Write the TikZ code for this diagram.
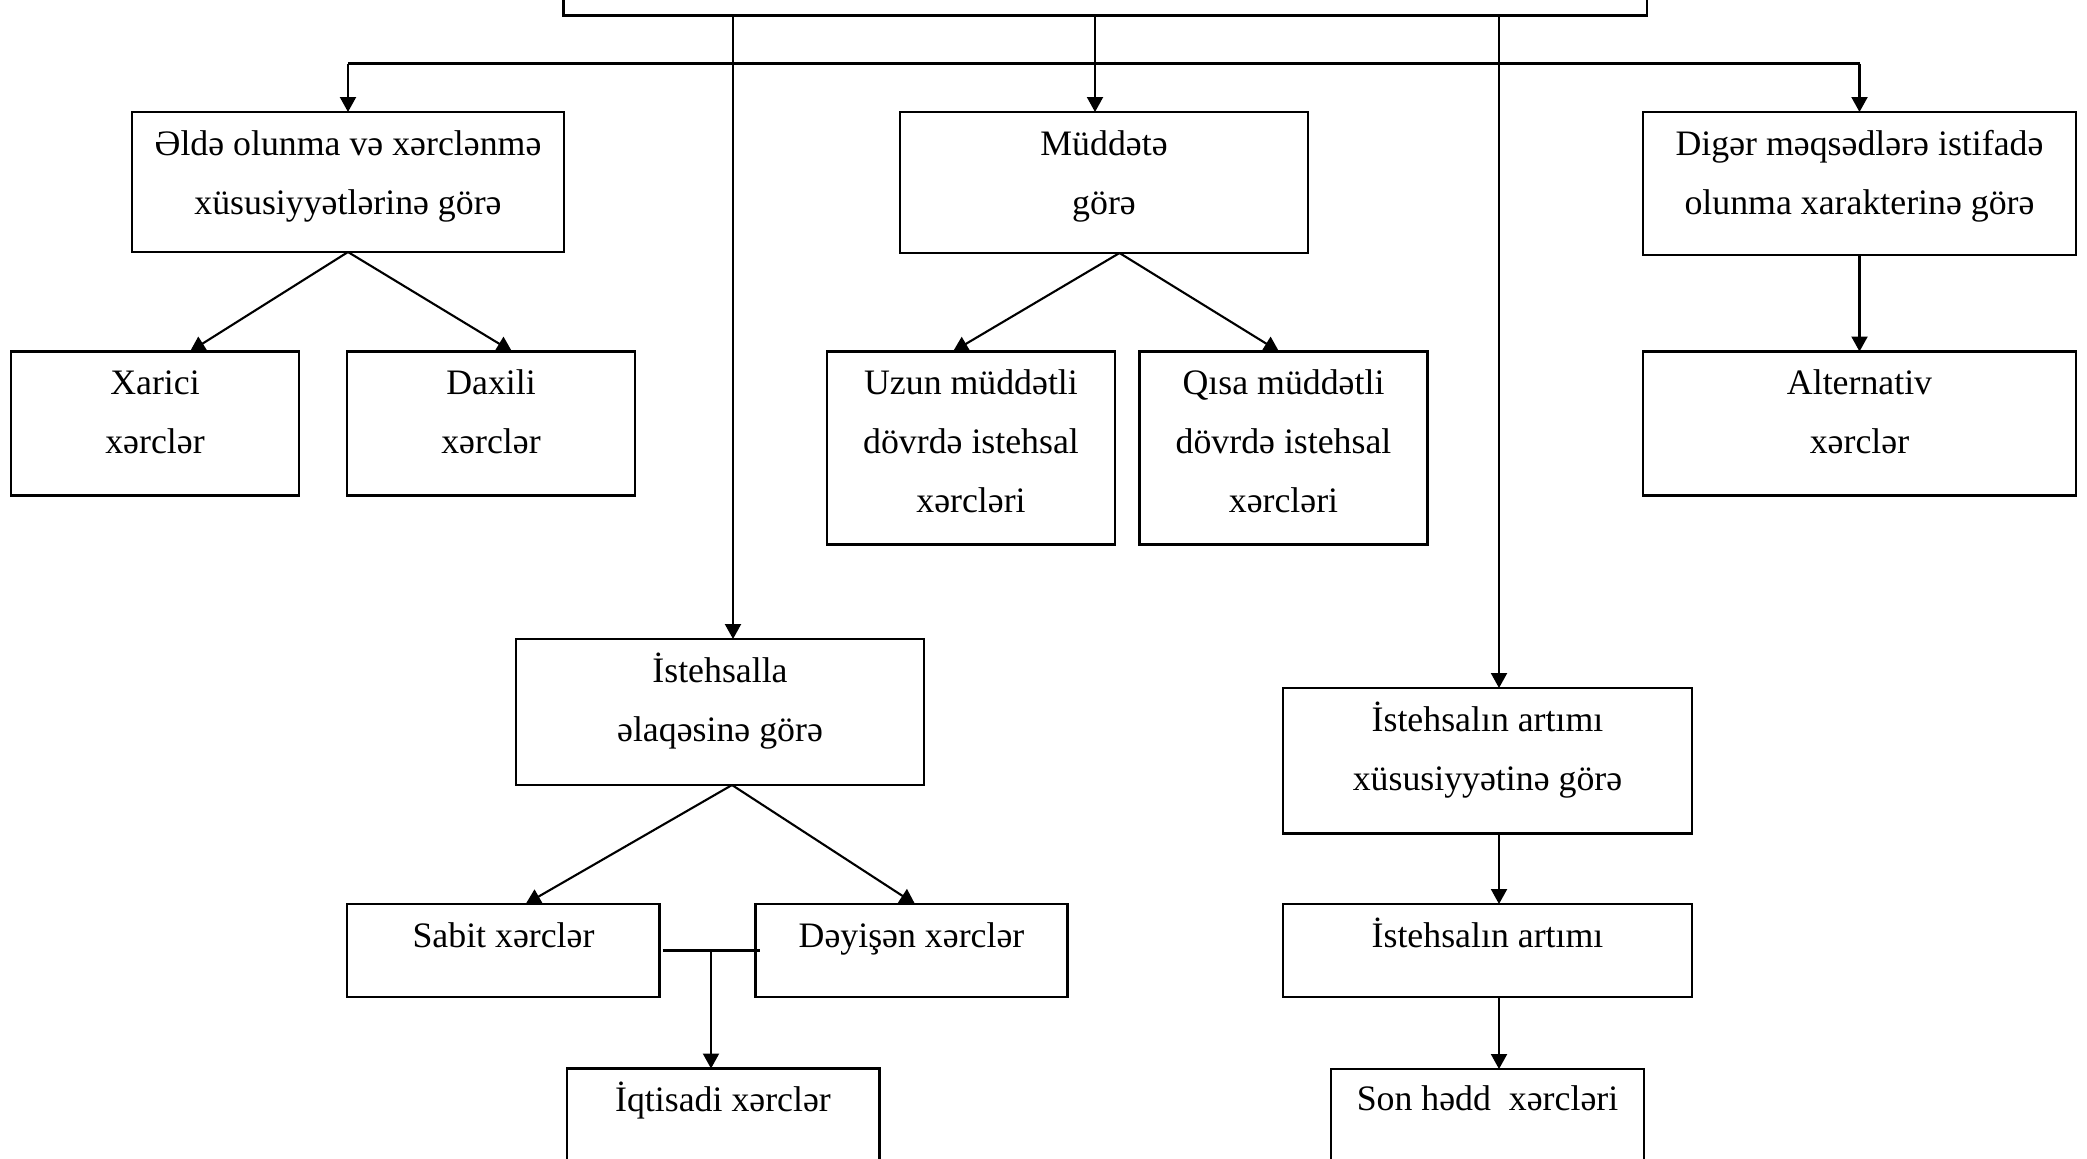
\documentclass[tikz,border=0pt]{standalone}
\usepackage{fontspec}
\setmainfont{Liberation Serif}
\usetikzlibrary{arrows.meta}
\begin{document}
\begin{tikzpicture}[x=0.5pt,y=-0.5pt,
 box/.style={draw, line width=1.1pt, anchor=north west, inner sep=0pt, outer sep=0pt},
 lbl/.style={anchor=base, align=center, font=\fontsize{17.9}{29.5}\selectfont, inner sep=0pt},
 conn/.style={line width=1.05pt},
 arr/.style={conn, -{Triangle[length=7.5pt,width=8pt]}}]
\clip (0,0) rectangle (2087,1158);
% boxes
\node[box, minimum width=541.75pt, minimum height=37.75pt] (top) at (563.5,-60) {};
\node[box, minimum width=216pt, minimum height=70pt] (b1) at (132,112) {};
\node[box, minimum width=204pt, minimum height=70.5pt] (mud) at (900,112) {};
\node[box, minimum width=216.5pt, minimum height=71.5pt] (dig) at (1643,112) {};
\node[box, minimum width=144pt, minimum height=72pt] (xar) at (11,351.5) {};
\node[box, minimum width=144pt, minimum height=72pt] (dax) at (347,351.5) {};
\node[box, minimum width=144pt, minimum height=96.5pt] (uzun) at (827,351.5) {};
\node[box, minimum width=144pt, minimum height=96.5pt] (qisa) at (1139.5,351.5) {};
\node[box, minimum width=216.5pt, minimum height=72pt] (alt) at (1643,351.5) {};
\node[box, minimum width=204pt, minimum height=73pt] (ist) at (516,639) {};
\node[box, minimum width=156.25pt, minimum height=46.5pt] (sab) at (347,904) {};
\node[box, minimum width=156pt, minimum height=46.5pt] (dey) at (755.5,904) {};
\node[box, minimum width=156.25pt, minimum height=80pt] (iqt) at (567,1068.5) {};
\node[box, minimum width=204.5pt, minimum height=72.75pt] (art1) at (1283,688) {};
\node[box, minimum width=204.5pt, minimum height=46.5pt] (art2) at (1283,904) {};
\node[box, minimum width=156.5pt, minimum height=80pt] (son) at (1331,1069) {};
% texts (anchor at baseline of last line)
\node[lbl] (t1) at (348,214.5) {Əldə olunma və xərclənmə\\xüsusiyyətlərinə görə};
\node[lbl] (t2) at (1104,214.5) {Müddətə\\görə};
\node[lbl] (t3) at (1859.5,214.5) {Digər məqsədlərə istifadə\\olunma xarakterinə görə};
\node[lbl] (t4) at (155,453) {Xarici\\xərclər};
\node[lbl] (t5) at (491,453) {Daxili\\xərclər};
\node[lbl] (t6) at (971,512) {Uzun müddətli\\dövrdə istehsal\\xərcləri};
\node[lbl] (t7) at (1283.5,512) {Qısa müddətli\\dövrdə istehsal\\xərcləri};
\node[lbl] (t8) at (1859.5,453) {Alternativ\\xərclər};
\node[lbl] (t9) at (720,741) {İstehsalla\\əlaqəsinə görə};
\node[lbl] (t10) at (503.5,947) {Sabit xərclər};
\node[lbl] (t11) at (911.5,947) {Dəyişən xərclər};
\node[lbl] (t12) at (723,1111) {İqtisadi xərclər};
\node[lbl] (t13) at (1487.5,790) {İstehsalın artımı\\xüsusiyyətinə görə};
\node[lbl] (t14) at (1487.5,947) {İstehsalın artımı};
\node[lbl] (t15) at (1487.5,1110) {Son hədd\ \ xərcləri};
% connectors
\coordinate (barY) at (0,63.5);
\coordinate (vm) at (1095,0);
\coordinate (vi) at (733,0);
\coordinate (va) at (1499,0);
\coordinate (j) at (711,0);
\draw[conn] (b1.north |- barY) -- (dig.north |- barY);
\draw[arr] (b1.north |- barY) -- (b1.north);
\draw[arr] (dig.north |- barY) -- (dig.north);
\draw[arr] (vm |- top.south) -- (vm |- mud.north);
\draw[arr] (vi |- top.south) -- (vi |- ist.north);
\draw[arr] (va |- top.south) -- (va |- art1.north);
\draw[arr] (va |- art1.south) -- (va |- art2.north);
\draw[arr] (va |- art2.south) -- (va |- son.north);
\draw[arr] (dig.south) -- (alt.north);
\draw[arr] (b1.south) -- ([xshift=17.5pt]xar.north);
\draw[arr] (b1.south) -- ([xshift=10.5pt]dax.north);
\draw[arr] ([xshift=7.75pt]mud.south) -- ([xshift=-9pt]uzun.north);
\draw[arr] ([xshift=7.75pt]mud.south) -- ([xshift=-2.25pt]qisa.north);
\draw[arr] ([xshift=6pt]ist.south) -- ([xshift=11.2pt]sab.north);
\draw[arr] ([xshift=6pt]ist.south) -- ([xshift=1.75pt]dey.north);
\draw[conn] ([xshift=1.6pt]sab.east) -- ([xshift=2pt]dey.west);
\draw[arr] (j |- sab.east) -- (j |- iqt.north);
\end{tikzpicture}
\end{document}
